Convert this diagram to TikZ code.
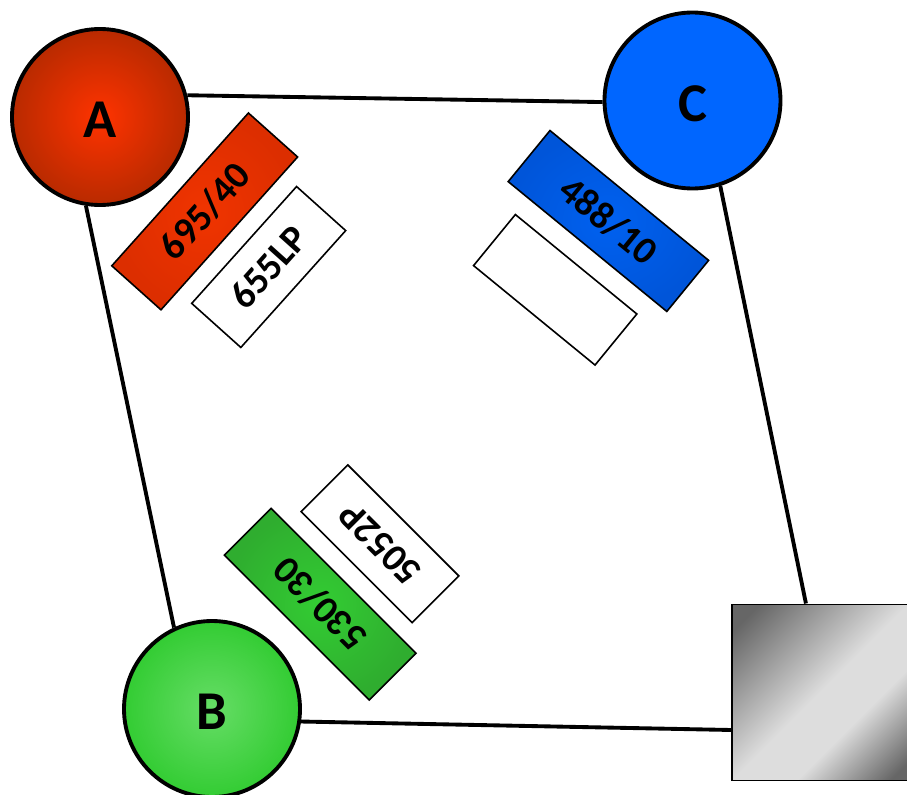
\documentclass[tikz,border=0pt]{standalone}
\usepackage{fontspec}
\setmainfont{Carlito}
\definecolor{sqdark}{HTML}{666666}
\definecolor{sqlight}{HTML}{DDDDDD}
\definecolor{Ain}{HTML}{FF3300}
\definecolor{Aout}{HTML}{B82A00}
\definecolor{Bin}{HTML}{66DD66}
\definecolor{Bout}{HTML}{33CC33}
\definecolor{Cfill}{HTML}{0066FF}
\definecolor{Rin}{HTML}{F03400}
\definecolor{Rout}{HTML}{DC2E00}
\definecolor{Uin}{HTML}{0061F0}
\definecolor{Uout}{HTML}{0055D9}
\definecolor{Gin}{HTML}{33CC33}
\definecolor{Gout}{HTML}{2FAD2F}
\pgfdeclareverticalshading{graysq}{100bp}{color(0bp)=(sqdark);color(18bp)=(sqdark);color(37bp)=(sqlight);color(50bp)=(sqlight);color(80bp)=(sqdark);color(100bp)=(sqdark)}
\newcommand{\lampname}[1]{\raisebox{-2.2pt}[\height][0pt]{#1}}
\tikzset{
  px/.style={x=0.75pt,y=-0.75pt},
  lamp/.style={circle,draw=black,line width=2.9pt,minimum size=132pt,inner sep=0pt,font=\bfseries\fontsize{41}{41}\selectfont},
  filterbox/.style={rectangle,draw=black,line width=1.2pt,minimum width=153.75pt,minimum height=49.5pt,inner sep=0pt,font=\bfseries\fontsize{29}{29}\selectfont},
  passbox/.style={rectangle,draw=black,fill=white,line width=1.2pt,minimum width=117.75pt,minimum height=49.5pt,inner sep=0pt,font=\bfseries\fontsize{29}{29}\selectfont},
  link/.style={draw=black,line width=2.9pt},
}
\begin{document}
\begin{tikzpicture}[px]
\useasboundingbox (0,0) rectangle (907,795);
\node[lamp,shading=radial,inner color=Ain,outer color=Aout] (A) at (100,117) {\lampname{A}};
\node[lamp,shading=radial,inner color=Bin,outer color=Bout] (B) at (212,709) {\lampname{B}};
\node[lamp,fill=Cfill] (C) at (692.5,100.5) {\lampname{C}};
\node[rectangle,draw=black,line width=1.2pt,minimum width=132pt,minimum height=132pt,inner sep=0pt,shading=graysq,shading angle=45] (D) at (820,692.3) {};
\node[filterbox,rotate=48.2,shading=radial,inner color=Rin,outer color=Rout] (f1) at (204.7,211.4) {695/40};
\node[passbox,rotate=48.1] (p1) at (268.7,267) {655LP};
\node[filterbox,rotate=-39.3,shading=radial,inner color=Uin,outer color=Uout] (f2) at (608.4,221) {488/10};
\node[passbox,rotate=-39.3] (p2) at (555.2,289.8) {};
\node[filterbox,rotate=135,shading=radial,inner color=Gin,outer color=Gout] (f3) at (320.2,604.2) {530/30};
\node[passbox,rotate=135] (p3) at (380,543.8) {5052P};
\draw[link] (A.14.2) -- (C.181.3);
\draw[link] (A.261) -- (B.115.7);
\draw[link] (C.-72) -- (D.99.7);
\draw[link] (B.-8.9) -- (D.203.4);
\end{tikzpicture}
\end{document}
